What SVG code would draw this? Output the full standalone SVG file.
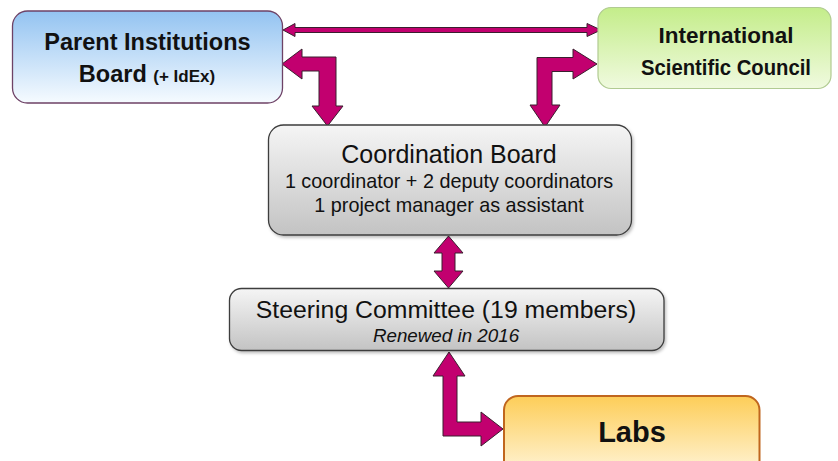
<svg xmlns="http://www.w3.org/2000/svg" width="838" height="461" viewBox="0 0 838 461">
  <defs>
    <linearGradient id="gBlue" x1="0" y1="0" x2="0" y2="1">
      <stop offset="0" stop-color="#93c3f1"/>
      <stop offset="1" stop-color="#f6fbff"/>
    </linearGradient>
    <linearGradient id="gGreen" x1="0" y1="0" x2="0" y2="1">
      <stop offset="0" stop-color="#c4ed8a"/>
      <stop offset="1" stop-color="#f0fadf"/>
    </linearGradient>
    <linearGradient id="gGray" x1="0" y1="0" x2="0" y2="1">
      <stop offset="0" stop-color="#f5f5f5"/>
      <stop offset="1" stop-color="#c3c3c3"/>
    </linearGradient>
    <linearGradient id="gOrange" x1="0" y1="0" x2="0" y2="1">
      <stop offset="0" stop-color="#fdcd58"/>
      <stop offset="1" stop-color="#fff8e3"/>
    </linearGradient>
    <filter id="shadow" x="-5%" y="-5%" width="112%" height="120%">
      <feDropShadow dx="1.5" dy="2" stdDeviation="1.5" flood-color="#000" flood-opacity="0.25"/>
    </filter>
  </defs>
  <style>
    .t { font-family: "Liberation Sans", Arial, sans-serif; fill: #111; text-anchor: middle; }
    .b { font-weight: bold; }
    .arrow { fill: #c2006f; stroke: #3a1f2e; stroke-width: 1; stroke-linejoin: miter; }
  </style>

  <rect width="838" height="461" fill="#ffffff"/>

  <!-- connectors -->
  <g id="connectors">
    <!-- Parent board <-> Scientific council -->
    <path class="arrow" d="M283,30 L295,23.5 L295,27.5 L587,27.5 L587,23.5 L601,30 L587,36.5 L587,32.5 L295,32.5 L295,36.5 Z"/>
    <!-- Parent board <-> Coordination board -->
    <path class="arrow" d="M282,64 L302,49 L302,57 L336,57 L336,106 L343,106 L327.5,126 L312,106 L319,106 L319,71 L302,71 L302,79 Z"/>
    <!-- Scientific council <-> Coordination board -->
    <path class="arrow" d="M597,64 L573,49 L573,57.5 L537,57.5 L537,105 L530,105 L545,127 L560,105 L552,105 L552,71.5 L573,71.5 L573,79 Z"/>
    <!-- Coordination board <-> Steering committee -->
    <path class="arrow" d="M448.5,236 L463,253 L455,253 L455,271 L463,271 L448.5,288 L434,271 L442,271 L442,253 L434,253 Z"/>
    <!-- Steering committee <-> Labs -->
    <path class="arrow" d="M449,352 L465,376 L457,376 L457,422 L481,422 L481,412 L503,429 L481,446 L481,436 L443,436 L443,376 L433,376 Z"/>
  </g>

  <g id="parent-board">
    <rect x="12.5" y="11" width="270" height="92" rx="15" fill="url(#gBlue)" stroke="#6e4266" stroke-width="1.3"/>
    <text class="t b" x="147.5" y="50" font-size="23.5">Parent Institutions</text>
    <text class="t b" x="147" y="82" font-size="23.5">Board <tspan font-size="17">(+ IdEx)</tspan></text>
  </g>

  <g id="scientific-council">
    <rect x="598" y="7.5" width="233" height="81" rx="13" fill="url(#gGreen)" stroke="#b1cb92" stroke-width="1.2"/>
    <text class="t b" x="726" y="43" font-size="22.5">International</text>
    <text class="t b" x="726" y="75" font-size="22.5" textLength="170" lengthAdjust="spacingAndGlyphs">Scientific Council</text>
  </g>

  <g id="coordination-board">
    <rect x="268.5" y="125" width="363" height="110" rx="15" fill="url(#gGray)" stroke="#3c3c3c" stroke-width="1.3" filter="url(#shadow)"/>
    <text class="t" x="449" y="163" font-size="25">Coordination Board</text>
    <text class="t" x="449" y="188" font-size="19.8">1 coordinator + 2 deputy coordinators</text>
    <text class="t" x="449" y="211.5" font-size="19.8">1 project manager as assistant</text>
  </g>

  <g id="steering-committee">
    <rect x="229.5" y="288.5" width="434.5" height="62" rx="12" fill="url(#gGray)" stroke="#3c3c3c" stroke-width="1.3" filter="url(#shadow)"/>
    <text class="t" x="446" y="318" font-size="24.8">Steering Committee (19 members)</text>
    <text class="t" x="446" y="341.5" font-size="18.8" font-style="italic">Renewed in 2016</text>
  </g>

  <g id="labs">
    <rect x="504" y="396" width="255.5" height="85" rx="14" fill="url(#gOrange)" stroke="#c0661e" stroke-width="2"/>
    <text class="t b" x="632" y="442" font-size="29">Labs</text>
  </g>
</svg>
